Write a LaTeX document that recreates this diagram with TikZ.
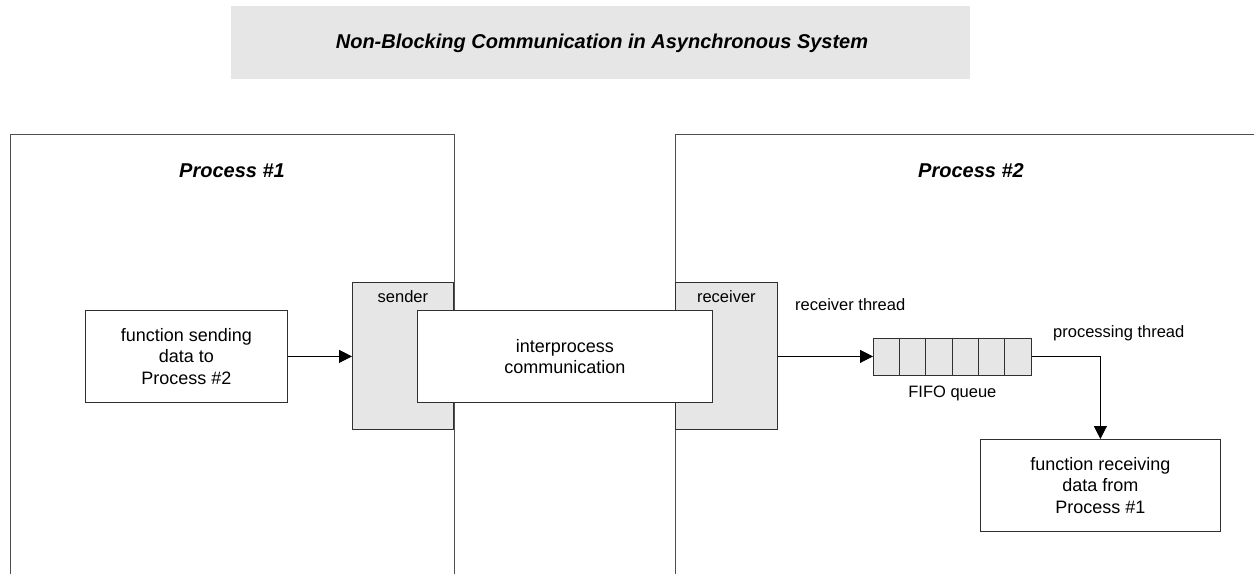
\documentclass[tikz,border=0pt]{standalone}
\usepackage{fontspec}
\setmainfont{Liberation Sans}
\usetikzlibrary{arrows.meta,calc}
\definecolor{boxgray}{HTML}{E6E6E6}
\definecolor{edge}{HTML}{303030}
\begin{document}
\begin{tikzpicture}[x=1pt,y=-1pt,
  boxtext/.style={font=\fontsize{18}{21.5}\selectfont, align=center},
  lbl/.style={font=\fontsize{16.5}{19}\selectfont, inner sep=0pt},
  plainbox/.style={draw=edge, line width=0.8pt, fill=white, boxtext, inner sep=0pt},
  graybox/.style={draw=edge, line width=0.8pt, fill=boxgray, inner sep=0pt},
  procline/.style={draw=edge!85, line width=0.8pt},
  conn/.style={draw=black, line width=0.8pt, -{Triangle[length=13pt,width=13pt]}},
  proctitle/.style={font=\fontsize{20}{24}\selectfont\bfseries\itshape, inner sep=0pt}]
\useasboundingbox (0,0) rectangle (1254,574);
% title
\node[fill=boxgray, minimum width=739pt, minimum height=73pt, inner sep=0pt, anchor=north west] (title) at (231,6) {};
\node[inner sep=0pt] (titletext) at (602,43) {\fontsize{20}{24}\selectfont\bfseries\itshape Non-Blocking Communication in Asynchronous System};
% process frames (open at bottom / right)
\coordinate (p1bl) at (10.5,574);
\coordinate (p1tl) at (10.5,134);
\coordinate (p1tr) at (454,134);
\coordinate (p1br) at (454,574);
\coordinate (p2bl) at (675,574);
\coordinate (p2tl) at (675,134);
\coordinate (p2tr) at (1254,134);
\draw[procline] (p1bl) -- (p1tl) -- (p1tr) -- (p1br);
\draw[procline] (p2bl) -- (p2tl) -- (p2tr);
\node[proctitle] (p1) at (232,171) {Process \#1};
\node[proctitle] (p2) at (971,171) {Process \#2};
% sender / receiver
\node[graybox, minimum width=101pt, minimum height=147pt, anchor=north west] (sender) at (352,282) {};
\node[lbl, anchor=north] (senderlbl) at ($(sender.north)+(0,8)$) {sender};
\node[graybox, minimum width=102pt, minimum height=147pt, anchor=north west] (receiver) at (675,282) {};
\node[lbl, anchor=north] (receiverlbl) at ($(receiver.north)+(0,8)$) {receiver};
% interprocess
\node[plainbox, minimum width=295pt, minimum height=92pt, anchor=north west] (ipc) at (417,310) {interprocess\\communication};
% function sending
\node[plainbox, minimum width=202pt, minimum height=92pt, anchor=north west] (fsend) at (85,310) {function sending\\data to\\Process \#2};
\draw[conn] (fsend.east) -- (sender.west |- fsend.east);
% FIFO
\node[graybox, minimum width=158pt, minimum height=37pt, anchor=north west] (fifo) at (873,337.5) {};
\foreach \i in {1,...,5} {
  \draw[edge, line width=0.8pt] ($(fifo.north west)+(\i*26.33,0)$) -- ($(fifo.south west)+(\i*26.33,0)$);
}
\node[lbl, anchor=north] (fifolbl) at ($(fifo.south)+(0,10)$) {FIFO queue};
\draw[conn] (receiver.east |- fifo.west) -- (fifo.west);
\node[lbl, anchor=west] (rthread) at (795,305) {receiver thread};
\node[lbl, anchor=west] (pthread) at (1053,333) {processing thread};
% function receiving
\node[plainbox, minimum width=240pt, minimum height=92pt, anchor=north west] (frecv) at (980,439) {function receiving\\data from\\Process \#1};
\coordinate (bend) at (frecv.north |- fifo.east);
\draw[conn] (fifo.east) -- (bend) -- (frecv.north);
\end{tikzpicture}
\end{document}
